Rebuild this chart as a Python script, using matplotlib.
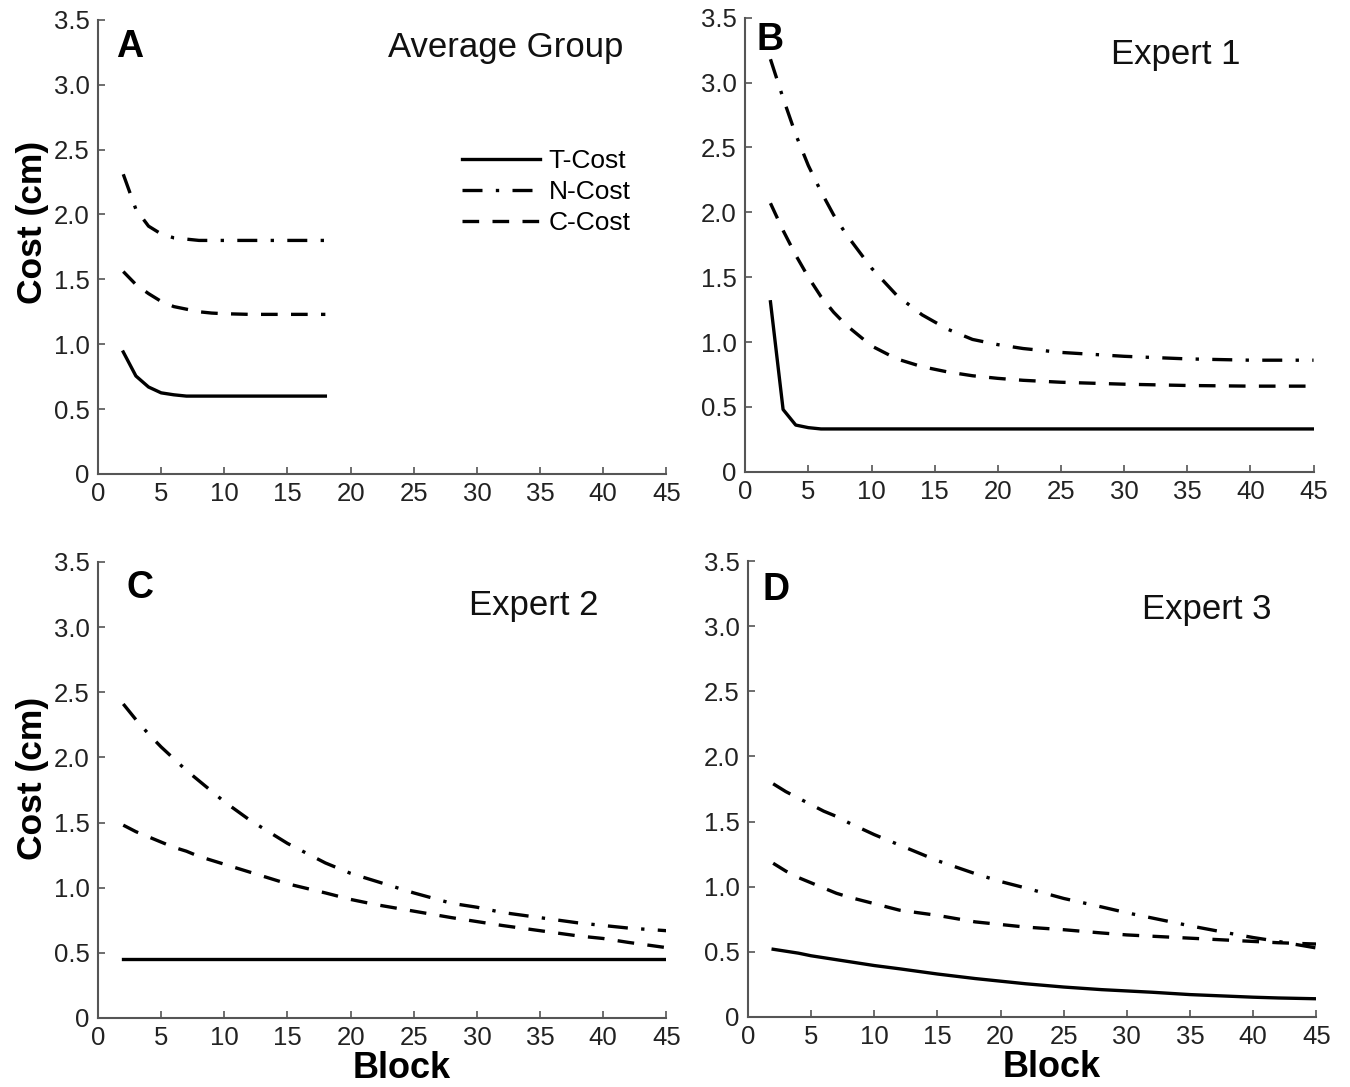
import matplotlib
matplotlib.use("Agg")
import matplotlib.pyplot as plt
import numpy as np

plt.rcParams['font.family'] = ['Liberation Sans Narrow', 'Liberation Sans', 'DejaVu Sans']

# panel A - average group
blocks_a = [2, 3, 4, 5, 6, 7, 8, 9, 10, 12, 14, 16, 18]
t_a = [0.94, 0.755, 0.67, 0.625, 0.61, 0.60, 0.60, 0.60, 0.60, 0.60, 0.60, 0.60, 0.60]
n_a = [2.31, 2.04, 1.91, 1.85, 1.82, 1.81, 1.80, 1.80, 1.80, 1.80, 1.80, 1.80, 1.80]
c_a = [1.56, 1.46, 1.39, 1.33, 1.29, 1.27, 1.25, 1.24, 1.235, 1.23, 1.23, 1.23, 1.23]

# panel B - expert 1
blocks_b = [2, 3, 4, 5, 6, 7, 8, 10, 12, 14, 16, 18, 20, 22, 25, 30, 35, 40, 45]
t_b = [1.31, 0.48, 0.36, 0.34, 0.33, 0.33, 0.33, 0.33, 0.33, 0.33, 0.33, 0.33,
       0.33, 0.33, 0.33, 0.33, 0.33, 0.33, 0.33]
n_b = [3.18, 2.88, 2.60, 2.36, 2.16, 1.98, 1.83, 1.57, 1.36, 1.21, 1.10, 1.02,
       0.98, 0.95, 0.92, 0.89, 0.87, 0.86, 0.86]
c_b = [2.07, 1.86, 1.67, 1.50, 1.35, 1.23, 1.13, 0.97, 0.87, 0.81, 0.77, 0.74,
       0.72, 0.705, 0.69, 0.675, 0.665, 0.66, 0.66]

# panels C, D share the same block grid
blocks_cd = [2, 3, 4, 5, 6, 7, 8, 10, 12, 15, 18, 20, 22, 25, 28, 30, 32, 35, 38, 40, 42, 45]

# panel C - expert 2
t_c = [0.45] * 22
n_c = [2.41, 2.29, 2.18, 2.08, 1.99, 1.90, 1.82, 1.66, 1.52, 1.34, 1.19, 1.11,
       1.05, 0.96, 0.88, 0.85, 0.81, 0.77, 0.73, 0.71, 0.69, 0.67]
c_c = [1.48, 1.43, 1.39, 1.35, 1.31, 1.28, 1.24, 1.18, 1.12, 1.03, 0.96, 0.91,
       0.87, 0.82, 0.77, 0.74, 0.71, 0.67, 0.63, 0.61, 0.58, 0.54]

# panel D - expert 3
t_d = [0.52, 0.505, 0.49, 0.47, 0.455, 0.44, 0.425, 0.395, 0.37, 0.33, 0.295, 0.275,
       0.255, 0.23, 0.21, 0.20, 0.19, 0.172, 0.16, 0.152, 0.146, 0.14]
n_d = [1.79, 1.73, 1.68, 1.63, 1.58, 1.54, 1.49, 1.40, 1.32, 1.20, 1.10, 1.04,
       0.99, 0.91, 0.845, 0.80, 0.76, 0.70, 0.645, 0.61, 0.58, 0.53]
c_d = [1.18, 1.12, 1.07, 1.03, 0.99, 0.95, 0.92, 0.87, 0.82, 0.78, 0.73, 0.71,
       0.69, 0.67, 0.645, 0.63, 0.62, 0.605, 0.59, 0.58, 0.57, 0.56]

xticks = [0, 5, 10, 15, 20, 25, 30, 35, 40, 45]
yticks = [0, 0.5, 1.0, 1.5, 2.0, 2.5, 3.0, 3.5]
ylabels = ['0', '0.5', '1.0', '1.5', '2.0', '2.5', '3.0', '3.5']

panels = [
    ('A', 'Average Group', blocks_a, t_a, n_a, c_a),
    ('B', 'Expert 1', blocks_b, t_b, n_b, c_b),
    ('C', 'Expert 2', blocks_cd, t_c, n_c, c_c),
    ('D', 'Expert 3', blocks_cd, t_d, n_d, c_d),
]
# axes rectangles (left, bottom, width, height) in figure fraction
rects = [
    [0.0726, 0.564, 0.421, 0.4177],
    [0.552, 0.566, 0.421, 0.4177],
    [0.0726, 0.0635, 0.421, 0.4195],
    [0.554, 0.0644, 0.421, 0.4195],
]
letter_pos = [(0.056, 0.94), (0.044, 0.95), (0.074, 0.943), (0.049, 0.936)]
title_pos = [(0.717, 0.94), (0.757, 0.918), (0.766, 0.905), (0.808, 0.893)]

fig = plt.figure(figsize=(13.5, 10.87), dpi=100)

for i, (letter, title, bx, t, n, c) in enumerate(panels):
    ax = fig.add_axes(rects[i])
    ax.plot(bx, t, color='black', lw=2.4, ls='-', label='T-Cost')
    ax.plot(bx, n, color='black', lw=2.4, ls=(0, (6, 4, 1, 4)), label='N-Cost')
    ax.plot(bx, c, color='black', lw=2.4, ls=(0, (5, 4)), label='C-Cost')
    ax.set_xlim(0, 45)
    ax.set_ylim(0, 3.5)
    ax.set_xticks(xticks)
    ax.set_yticks(yticks)
    ax.set_yticklabels(ylabels)
    ax.spines['top'].set_visible(False)
    ax.spines['right'].set_visible(False)
    for s in ['left', 'bottom']:
        ax.spines[s].set_color('#555555')
        ax.spines[s].set_linewidth(1.5)
    ax.tick_params(direction='in', length=5, width=1.2, color='#555555',
                   labelsize=18.5, labelcolor='#222222', pad=6)
    ax.text(letter_pos[i][0], letter_pos[i][1], letter, transform=ax.transAxes,
            fontsize=27, fontweight='bold', family='Liberation Sans',
            ha='center', va='center')
    ax.text(title_pos[i][0], title_pos[i][1], title, transform=ax.transAxes,
            fontsize=25, family='Liberation Sans', ha='center', va='center',
            color='#111111')
    if i in (0, 2):
        ax.set_ylabel('Cost (cm)', fontsize=25.5, fontweight='bold',
                      family='Liberation Sans')
        ax.yaxis.set_label_coords(-0.087, 0.555 if i == 0 else 0.526)
    if i in (2, 3):
        ax.set_xlabel('Block', fontsize=26, fontweight='bold',
                      family='Liberation Sans')
        ax.xaxis.set_label_coords(0.535, -0.072)
    if i == 0:
        ax.legend(loc='upper left', bbox_to_anchor=(0.640, 0.716), frameon=False,
                  fontsize=19, handlelength=2.95, handletextpad=0.35,
                  labelspacing=0.27, borderpad=0, borderaxespad=0)

fig.savefig('out.png', dpi=100)
